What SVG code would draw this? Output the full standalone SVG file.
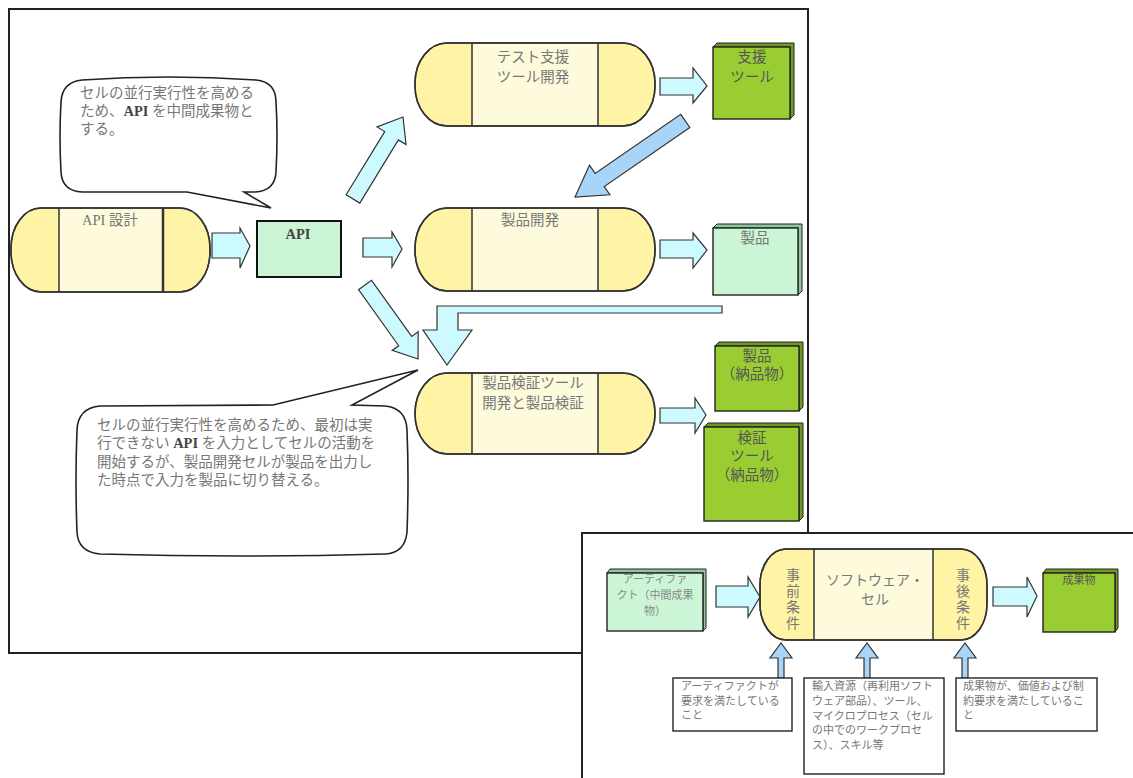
<svg xmlns="http://www.w3.org/2000/svg" width="1133" height="778" viewBox="0 0 1133 778">
  <defs>
    <style>
      .frame { fill: #ffffff; stroke: #222; stroke-width: 2; }
      .cap { fill: #fff3a6; stroke: #333; stroke-width: 1.5; }
      .mid { fill: #fdfbdc; stroke: none; }
      .div { stroke: #333; stroke-width: 1.5; }
      .outline { fill: none; stroke: #333; stroke-width: 1.5; }
      .arrow { fill: #ccfaff; stroke: #333; stroke-width: 1.2; stroke-linejoin: miter; }
      .arrowB { fill: #a8d4f7; stroke: #333; stroke-width: 1.2; }
      .bubble { fill: #ffffff; stroke: #222; stroke-width: 1.6; stroke-linejoin: miter; }
      .lgFront { fill: #ccf5d5; stroke: #222; stroke-width: 1.4; }
      .lgSide { fill: #8fc79c; stroke: #222; stroke-width: 1; }
      .dgFront { fill: #9acd32; stroke: #222; stroke-width: 1.4; }
      .dgSide { fill: #6e9a22; stroke: #222; stroke-width: 1; }
      .note { fill: #ffffff; stroke: #222; stroke-width: 1.4; }
      text { font-family: 'Liberation Serif', 'Noto Sans CJK JP', serif; fill: #777; }
      .t15 { font-size: 14.5px; }
      .t14 { font-size: 14px; }
      .t11 { font-size: 11px; }
      .c { text-anchor: middle; }
      .dark { fill: #555; }
      .api { fill: #444; font-weight: bold; }
    </style>
  </defs>

  <!-- outer frame of the work-flow -->
  <rect class="frame" x="9" y="9" width="799" height="644"/>

  <!-- connectors -->
  <g id="connectors">
    <!-- API design -> API -->
    <polygon class="arrow" points="212,233 240,233 240,228 250,246 240,268 240,258 212,258"/>
    <!-- API -> product development -->
    <polygon class="arrow" points="363,238 392,238 392,232 402,249 392,267 392,257 363,257"/>
    <!-- API -> test tool development -->
    <polygon class="arrow" transform="translate(403,117) rotate(-58.6)" points="-96,-8 -22,-8 -22,-17 0,0 -22,17 -22,8 -96,8"/>
    <!-- API -> verification -->
    <polygon class="arrow" transform="translate(418,359) rotate(54.4)" points="-91,-8 -22,-8 -22,-16 0,0 -22,16 -22,8 -91,8"/>
    <!-- support tool -> product development -->
    <polygon class="arrowB" transform="translate(575,197) rotate(145.4)" points="-134,-8 -30,-8 -30,-18 0,0 -30,18 -30,8 -134,8"/>
    <!-- test tool development -> support tool -->
    <polygon class="arrow" points="660,78 693,78 693,68 707,86 693,103 693,95 660,95"/>
    <!-- product development -> product -->
    <polygon class="arrow" points="660,240 693,240 693,233 707,250 693,268 693,258 660,258"/>
    <!-- product -> verification (L-shaped) -->
    <polygon class="arrow" points="722,306 722,313 458,313 458,330 472,330 447,365 423,330 437,330 437,306"/>
    <!-- verification -> deliverables -->
    <polygon class="arrow" points="660,408 695,408 695,398 706,415 695,433 695,423 660,423"/>
  </g>

  <!-- callout: API as intermediate artifact -->
  <g id="callout-api">
    <path class="bubble" d="M 82,80 Q 168,74 256,80 Q 276,82 276,102 Q 278,136 276,172 Q 275,191 255,192 L 244,192 L 271,208 L 187,192 L 82,192 Q 62,191 61,172 Q 59,136 61,102 Q 62,82 82,80 Z"/>
    <text class="t15" x="80" y="98">セルの並行実行性を高める</text>
    <text class="t15" x="80" y="116">ため、<tspan class="api">API</tspan> を中間成果物と</text>
    <text class="t15" x="80" y="134">する。</text>
  </g>

  <!-- callout: switching input -->
  <g id="callout-switch">
    <path class="bubble" d="M 100,406 L 273,405 L 418,370 L 352,405 L 385,406 Q 406,408 407,430 Q 409,480 407,532 Q 405,553 385,554 Q 242,558 100,554 Q 78,552 77,532 Q 75,480 77,430 Q 78,408 100,406 Z"/>
    <text class="t15" x="97" y="430">セルの並行実行性を高めるため、最初は実</text>
    <text class="t15" x="97" y="448">行できない <tspan class="api">API</tspan> を入力としてセルの活動を</text>
    <text class="t15" x="97" y="467">開始するが、製品開発セルが製品を出力し</text>
    <text class="t15" x="97" y="485">た時点で入力を製品に切り替える。</text>
  </g>

  <!-- cell: API design -->
  <g id="cell-api-design">
    <rect class="cap" x="11" y="208" width="199" height="84" rx="30" ry="40"/>
    <rect class="mid" x="59" y="209" width="104" height="82"/>
    <line class="div" x1="59" y1="208" x2="59" y2="292"/>
    <line class="div" x1="163" y1="208" x2="163" y2="292" style="stroke-width:2.5"/>
    <rect class="outline" x="11" y="208" width="199" height="84" rx="30" ry="40"/>
    <text class="t15 c" x="110" y="225">API 設計</text>
  </g>

  <!-- artifact: API -->
  <g id="box-api">
    <rect x="257" y="221" width="84" height="56" fill="#ccf5d5" stroke="#111" stroke-width="2"/>
    <text class="t15 c api" x="298" y="239">API</text>
  </g>

  <!-- cell: test support tool development -->
  <g id="cell-test-tool">
    <rect class="cap" x="415" y="43" width="240" height="83" rx="32" ry="40"/>
    <rect class="mid" x="472" y="44" width="126" height="81"/>
    <line class="div" x1="472" y1="43" x2="472" y2="126"/>
    <line class="div" x1="598" y1="43" x2="598" y2="126"/>
    <rect class="outline" x="415" y="43" width="240" height="83" rx="32" ry="40"/>
    <text class="t15 c" x="533" y="62">テスト支援</text>
    <text class="t15 c" x="533" y="82">ツール開発</text>
  </g>

  <!-- cell: product development -->
  <g id="cell-product-dev">
    <rect class="cap" x="415" y="208" width="240" height="83" rx="32" ry="40"/>
    <rect class="mid" x="472" y="209" width="126" height="81"/>
    <line class="div" x1="472" y1="208" x2="472" y2="291"/>
    <line class="div" x1="598" y1="208" x2="598" y2="291"/>
    <rect class="outline" x="415" y="208" width="240" height="83" rx="32" ry="40"/>
    <text class="t15 c" x="530" y="225">製品開発</text>
  </g>

  <!-- cell: verification tool development and product verification -->
  <g id="cell-verification">
    <rect class="cap" x="415" y="373" width="240" height="81" rx="32" ry="40"/>
    <rect class="mid" x="472" y="374" width="126" height="79"/>
    <line class="div" x1="472" y1="373" x2="472" y2="454"/>
    <line class="div" x1="598" y1="373" x2="598" y2="454"/>
    <rect class="outline" x="415" y="373" width="240" height="81" rx="32" ry="40"/>
    <text class="t15 c" x="533" y="388">製品検証ツール</text>
    <text class="t15 c" x="533" y="408">開発と製品検証</text>
  </g>

  <!-- artifact: support tool -->
  <g id="box-support-tool">
    <polygon class="dgSide" points="713,47 717,43 794,43 794,115 790,119 790,47"/>
    <rect class="dgFront" x="713" y="47" width="77" height="72"/>
    <text class="t15 c dark" x="752" y="62">支援</text>
    <text class="t15 c dark" x="752" y="82">ツール</text>
  </g>

  <!-- artifact: product -->
  <g id="box-product">
    <polygon class="lgSide" points="713,228 717,224 802,224 802,291 798,295 798,228"/>
    <rect class="lgFront" x="713" y="228" width="85" height="67"/>
    <text class="t15 c" x="755" y="243">製品</text>
  </g>

  <!-- deliverable: product -->
  <g id="box-product-delivered">
    <polygon class="dgSide" points="715,346 719,342 803,342 803,407 799,411 799,346"/>
    <rect class="dgFront" x="715" y="346" width="84" height="65"/>
    <text class="t15 c dark" x="757" y="361">製品</text>
    <text class="t15 c dark" x="757" y="379">（納品物）</text>
  </g>

  <!-- deliverable: verification tool -->
  <g id="box-verification-tool">
    <polygon class="dgSide" points="704,427 708,423 803,423 803,517 799,521 799,427"/>
    <rect class="dgFront" x="704" y="427" width="95" height="94"/>
    <text class="t15 c dark" x="752" y="443">検証</text>
    <text class="t15 c dark" x="752" y="461">ツール</text>
    <text class="t15 c dark" x="752" y="480">（納品物）</text>
  </g>

  <!-- legend panel: structure of a software cell -->
  <g id="legend">
    <rect class="frame" x="582" y="533" width="560" height="260"/>

    <g id="legend-connectors">
      <polygon class="arrow" points="716,586 748,586 748,577 760,597 748,617 748,607 716,607"/>
      <polygon class="arrow" points="993,587 1027,587 1027,577 1037,596 1027,617 1027,606 993,606"/>
      <polygon class="arrowB" points="778,678 778,658 770,658 781,643 792,658 784,658 784,678"/>
      <polygon class="arrowB" points="864,678 864,658 856,658 867,643 878,658 870,658 870,678"/>
      <polygon class="arrowB" points="962,678 962,658 954,658 965,643 976,658 968,658 968,678"/>
    </g>

    <g id="legend-artifact">
      <polygon class="lgSide" points="607,573 610,569 706,569 706,628 703,631 703,573"/>
      <rect class="lgFront" x="607" y="573" width="96" height="58"/>
      <text class="t11 c" x="655" y="583" style="fill:#888">アーティファ</text>
      <text class="t11 c" x="655" y="599" style="fill:#888">クト（中間成果</text>
      <text class="t11 c" x="655" y="615" style="fill:#888">物）</text>
    </g>

    <g id="legend-cell">
      <rect class="cap" x="760" y="549" width="227" height="91" rx="26" ry="36"/>
      <rect class="mid" x="814" y="550" width="119" height="89"/>
      <line class="div" x1="814" y1="549" x2="814" y2="640"/>
      <line class="div" x1="933" y1="549" x2="933" y2="640"/>
      <rect class="outline" x="760" y="549" width="227" height="91" rx="26" ry="36"/>
      <text class="t14 c" x="793" y="580">事</text>
      <text class="t14 c" x="793" y="596">前</text>
      <text class="t14 c" x="793" y="612">条</text>
      <text class="t14 c" x="793" y="628">件</text>
      <text class="t14 c" x="875" y="585">ソフトウェア・</text>
      <text class="t14 c" x="875" y="604">セル</text>
      <text class="t14 c" x="963" y="580">事</text>
      <text class="t14 c" x="963" y="596">後</text>
      <text class="t14 c" x="963" y="612">条</text>
      <text class="t14 c" x="963" y="628">件</text>
    </g>

    <g id="legend-result">
      <polygon class="dgSide" points="1043,573 1046,569 1118,569 1118,628 1115,632 1115,573"/>
      <rect class="dgFront" x="1043" y="573" width="72" height="59"/>
      <text class="t11 c dark" x="1079" y="584">成果物</text>
    </g>

    <g id="note-precondition">
      <rect class="note" x="673" y="678" width="119" height="53"/>
      <text class="t11" x="681" y="690">アーティファクトが</text>
      <text class="t11" x="681" y="705">要求を満たしている</text>
      <text class="t11" x="681" y="719">こと</text>
    </g>

    <g id="note-resources">
      <rect class="note" x="804" y="678" width="140" height="96"/>
      <text class="t11" x="812" y="690">輸入資源（再利用ソフト</text>
      <text class="t11" x="812" y="705">ウェア部品）、ツール、</text>
      <text class="t11" x="812" y="720">マイクロプロセス（セル</text>
      <text class="t11" x="812" y="734">の中でのワークプロセ</text>
      <text class="t11" x="812" y="749">ス）、スキル等</text>
    </g>

    <g id="note-postcondition">
      <rect class="note" x="956" y="678" width="141" height="53"/>
      <text class="t11" x="963" y="690">成果物が、価値および制</text>
      <text class="t11" x="963" y="705">約要求を満たしているこ</text>
      <text class="t11" x="963" y="719">と</text>
    </g>
  </g>
</svg>
